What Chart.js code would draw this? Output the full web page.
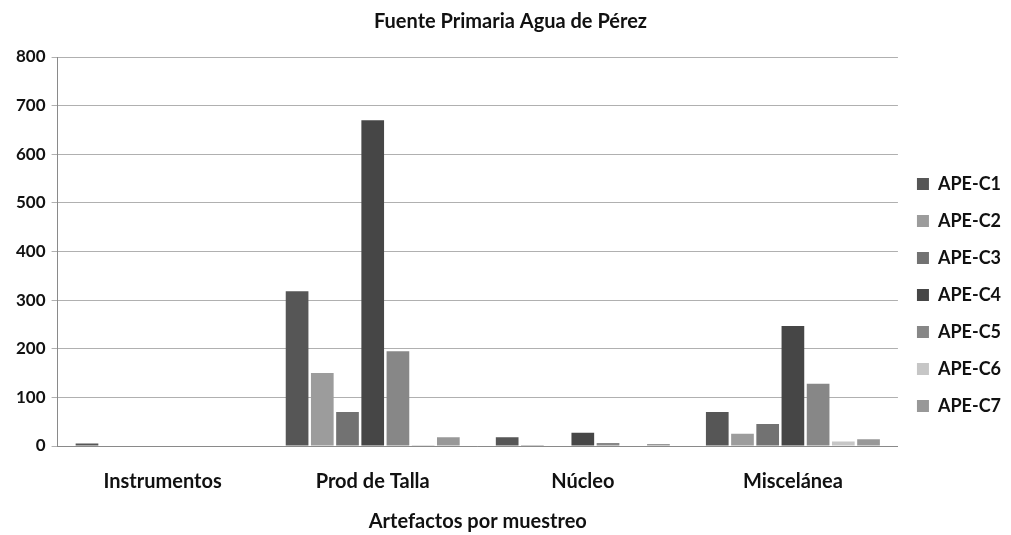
<!DOCTYPE html>
<html>
<head>
<meta charset="utf-8">
<script src="https://cdn.jsdelivr.net/npm/chart.js@4"></script>
<style>
  body { margin: 0; background: #fff; }
  #wrap { width: 1011px; height: 535px; }
</style>
</head>
<body>
<div id="wrap"><canvas id="myChart"></canvas></div>
<script>
const categories = ['Instrumentos', 'Prod de Talla', 'Núcleo', 'Miscelánea'];
const seriesNames = ['APE-C1', 'APE-C2', 'APE-C3', 'APE-C4', 'APE-C5', 'APE-C6', 'APE-C7'];
// one array per series, values per category
const apeC1 = [5, 318, 18, 70];
const apeC2 = [0, 150, 2, 25];
const apeC3 = [0, 70, 0, 45];
const apeC4 = [1, 670, 27, 247];
const apeC5 = [1, 195, 6, 128];
const apeC6 = [0, 2, 0, 9];
const apeC7 = [0, 18, 4, 14];
const yTicks = [0, 100, 200, 300, 400, 500, 600, 700, 800];

const colors = ['#565656', '#9c9c9c', '#727272', '#464646', '#878787', '#c6c6c6', '#989898'];
const allSeries = [apeC1, apeC2, apeC3, apeC4, apeC5, apeC6, apeC7];

const fontFam = 'Lato, "DejaVu Sans", sans-serif';

const data = {
    labels: categories,
    datasets: allSeries.map((vals, i) => ({
        label: seriesNames[i],
        data: vals,
        backgroundColor: colors[i],
        borderWidth: 0,
        barPercentage: 0.9,
        categoryPercentage: 0.84,
    }))
};

const config = {
    type: 'bar',
    data: data,
    options: {
        maintainAspectRatio: false,
        animation: false,
        layout: {
            padding: { left: 10, right: 0, bottom: 1, top: 0 }
        },
        scales: {
            x: {
                grid: { display: false },
                border: { color: '#8a8a8a', width: 1 },
                ticks: {
                    color: '#111',
                    font: { family: fontFam, size: 20, weight: 700 },
                    padding: 16,
                },
                title: {
                    display: true,
                    text: 'Artefactos por muestreo',
                    color: '#111',
                    font: { family: fontFam, size: 20, weight: 700 },
                    padding: { top: 0, bottom: 0 }
                }
            },
            y: {
                min: 0,
                max: 800,
                afterBuildTicks: (axis) => { axis.ticks = yTicks.map(v => ({ value: v })); },
                grid: { color: '#b0b0b0', tickLength: 6 },
                border: { color: '#8a8a8a', width: 1 },
                ticks: {
                    color: '#111',
                    font: { family: fontFam, size: 17, weight: 700 },
                    padding: 6,
                }
            }
        },
        plugins: {
            legend: {
                position: 'right',
                title: {
                    display: true,
                    text: ' ',
                    font: { size: 10 },
                    padding: { top: 0, bottom: 44 }
                },
                labels: {
                    boxWidth: 12,
                    boxHeight: 12,
                    padding: 19,
                    color: '#111',
                    font: { family: fontFam, size: 18, weight: 700 },
                }
            },
            title: {
                display: true,
                text: 'Fuente Primaria Agua de Pérez',
                color: '#111',
                font: { family: fontFam, size: 20, weight: 700 },
                padding: { top: 10, bottom: 23 }
            },
            tooltip: { enabled: false }
        },
    },
};

const myChart = new Chart(document.getElementById('myChart'), config);
</script>
</body>
</html>
